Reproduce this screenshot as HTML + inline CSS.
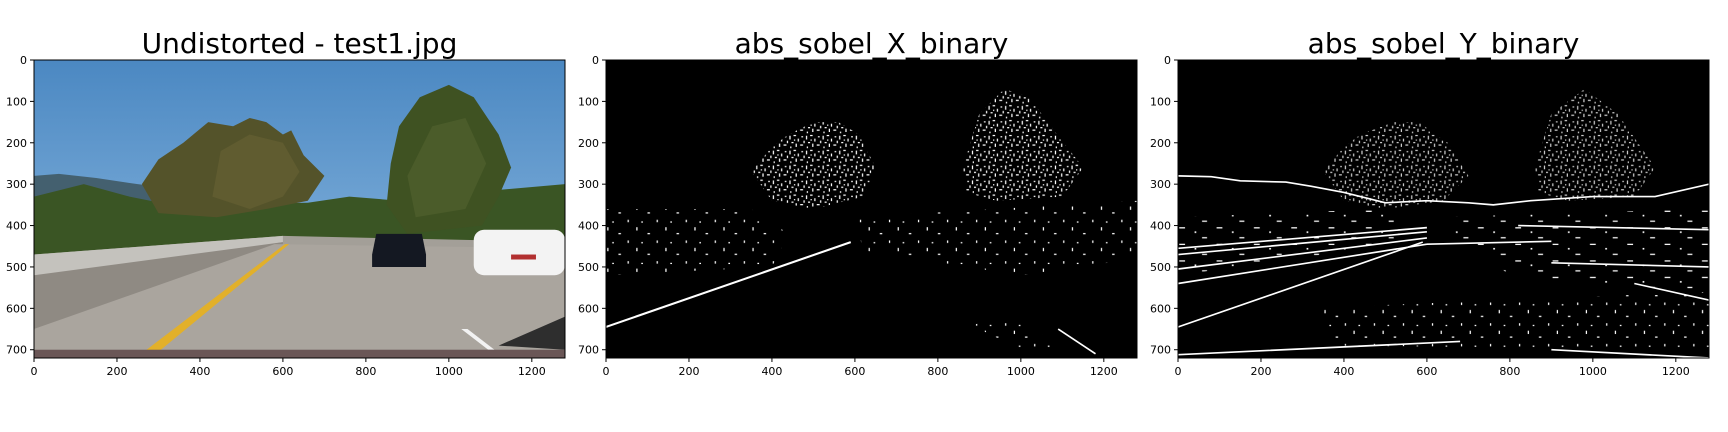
<!DOCTYPE html>
<html><head><meta charset="utf-8"><style>
html,body{margin:0;padding:0;background:#fff;}
#root{position:relative;width:1728px;height:432px;overflow:hidden;font-family:"DejaVu Sans","Liberation Sans",sans-serif;}
svg{position:absolute;left:0;top:0;}
</style></head><body>
<div id="root">
<svg id="fig" width="1728" height="432" viewBox="0 0 1728 432">
<defs>
<linearGradient id="sky" x1="0" y1="0" x2="0" y2="1">
<stop offset="0" stop-color="#4b88c2"/><stop offset="0.5" stop-color="#6fa3d3"/><stop offset="1" stop-color="#9cc4e6"/></linearGradient>
<pattern id="speck" width="40" height="36" patternUnits="userSpaceOnUse">
<rect x="2" y="3" width="3" height="9" fill="#fff"/><rect x="12" y="1" width="6" height="3" fill="#fff"/>
<rect x="22" y="10" width="3" height="7" fill="#fff"/><rect x="31" y="4" width="4" height="3" fill="#fff"/>
<rect x="7" y="18" width="5" height="3" fill="#fff"/><rect x="17" y="22" width="3" height="8" fill="#fff"/>
<rect x="28" y="24" width="7" height="3" fill="#fff"/><rect x="36" y="15" width="3" height="6" fill="#fff"/>
<rect x="4" y="29" width="3" height="4" fill="#fff"/><rect x="13" y="12" width="3" height="3" fill="#fff"/>
</pattern>
<pattern id="sparse" width="70" height="50" patternUnits="userSpaceOnUse">
<rect x="3" y="4" width="3" height="8" fill="#fff"/><rect x="30" y="18" width="6" height="3" fill="#fff"/>
<rect x="52" y="36" width="3" height="6" fill="#fff"/><rect x="15" y="40" width="4" height="3" fill="#fff"/>
</pattern>
<pattern id="speck2" width="90" height="40" patternUnits="userSpaceOnUse">
<rect x="3" y="4" width="14" height="3" fill="#fff"/><rect x="40" y="14" width="4" height="4" fill="#fff"/>
<rect x="58" y="28" width="12" height="3" fill="#fff"/>
</pattern>
</defs>
<g id="panels"></g>
</svg>
</div>
<script>
const titles = ["Undistorted - test1.jpg", "abs_sobel_X_binary", "abs_sobel_Y_binary"];
const xTicks = [0, 200, 400, 600, 800, 1000, 1200];
const yTicks = [0, 100, 200, 300, 400, 500, 600, 700];
const imgW = [1280];
const imgH = [720];
const panelLeft = [34, 606, 1178];
const AXW = 531, AXH = 298, AXT = 60;
const NS = "http://www.w3.org/2000/svg";
const root = document.getElementById('panels');
function mk(tag, attrs, parent){const e=document.createElementNS(NS,tag);for(const k in attrs)e.setAttribute(k,attrs[k]);parent.appendChild(e);return e;}
const sx = v => v / imgW[0] * AXW;
const sy = v => v / imgH[0] * AXH;

const photoSVG = `
<rect x="0" y="0" width="1280" height="720" fill="url(#sky)"/>
<path d="M0,280 L60,275 L150,285 L250,300 L330,310 L360,330 L360,420 L0,420Z" fill="#44606f"/>
<path d="M0,330 L120,300 L230,330 L330,350 L660,345 L760,330 L880,340 L1050,320 L1280,300 L1280,470 L0,470Z" fill="#3a5524"/>
<path d="M260,300 L300,240 L360,200 L420,150 L480,160 L520,140 L560,150 L600,180 L620,170 L650,230 L700,280 L660,340 L560,360 L440,380 L300,370 Z" fill="#54532a"/>
<path d="M450,220 L520,180 L600,200 L640,270 L600,330 L520,360 L430,330 Z" fill="#605c30"/>
<path d="M860,250 L880,160 L930,90 L1000,60 L1060,90 L1120,180 L1150,260 L1120,330 L1080,400 L900,420 L850,350 Z" fill="#3f5222"/>
<path d="M900,280 L960,160 L1040,140 L1090,250 L1040,360 L920,380Z" fill="#4b5c2a"/>
<path d="M0,470 L600,425 L1280,440 L1280,720 L0,720Z" fill="#a39f98"/>
<path d="M0,470 L600,425 L600,440 L0,540Z" fill="#c4c2bd"/>
<path d="M0,520 L600,440 L600,445 L0,650Z" fill="#8f8a83"/>
<path d="M580,445 L1280,455 L1280,720 L0,720 L0,650Z" fill="#aaa59e"/>
<path d="M265,705 L300,705 L615,445 L605,445Z" fill="#e2b02a"/>
<path d="M1030,650 L1045,650 L1110,700 L1095,700Z" fill="#f2f2f2"/>
<path d="M1120,690 L1280,620 L1280,700Z" fill="#2e2e2e"/>
<path d="M825,420 L935,420 L945,470 L945,500 L815,500 L815,470Z" fill="#141822"/>
<rect x="1060" y="410" width="220" height="110" rx="25" fill="#f3f3f3"/>
<rect x="1150" y="470" width="60" height="12" fill="#b23030"/>
<rect x="0" y="700" width="1280" height="20" fill="#6a5656"/>
`;

const sobelX = `
<rect x="0" y="0" width="1280" height="720" fill="#000"/>
<path d="M350,270 L400,210 L440,180 L500,150 L560,150 L610,180 L650,260 L620,330 L500,360 L400,340Z" fill="url(#speck)"/>
<path d="M860,260 L900,130 L960,70 L1020,90 L1080,170 L1150,260 L1100,330 L940,340 L870,320Z" fill="url(#speck)"/>
<path d="M0,360 L350,360 L440,420 L400,500 L0,520Z" fill="url(#sparse)"/>
<path d="M600,380 L1280,340 L1280,480 L1000,520 L620,460Z" fill="url(#sparse)"/>
<path d="M0,645 L590,440" stroke="#fff" stroke-width="5"/>
<path d="M880,640 L1000,700 L1100,700 L1000,620Z" fill="url(#sparse)"/>
<path d="M1090,650 L1180,710" stroke="#fff" stroke-width="4"/>
`;

const sobelY = `
<rect x="0" y="0" width="1280" height="720" fill="#000"/>
<path d="M350,270 L400,210 L440,180 L520,150 L580,150 L650,200 L700,280 L640,340 L500,360 L400,340Z" fill="url(#speck)" opacity="0.8"/>
<path d="M860,260 L900,130 L980,70 L1060,130 L1150,260 L1100,330 L940,340 L870,320Z" fill="url(#speck)" opacity="0.8"/>
<path d="M0,280 L80,282 L150,292 L260,295 L320,305 L400,320 L500,345 L600,340 L700,345 L760,350 L850,340 L1000,330 L1150,330 L1280,300" stroke="#fff" stroke-width="4" fill="none"/>
<path d="M0,540 L600,445 M0,505 L600,430 M0,470 L600,415 M0,455 L600,405 M600,445 L900,438 M820,400 L1280,410 M900,490 L1280,500 M1100,540 L1280,580 M0,712 L680,680 M900,700 L1280,720" stroke="#fff" stroke-width="4" fill="none"/>
<path d="M0,645 L590,440" stroke="#fff" stroke-width="4"/>
<path d="M0,380 L500,360 L560,440 L0,520Z" fill="url(#speck2)"/>
<path d="M620,380 L1280,360 L1280,560 L800,520Z" fill="url(#speck2)"/>
<path d="M300,600 L1280,560 L1280,700 L400,690Z" fill="url(#sparse)"/>
`;
const contents = [photoSVG, sobelX, sobelY];
const names = ['undistorted-image', 'sobel-x-image', 'sobel-y-image'];

for (let p = 0; p < titles.length; p++) {
  const L = panelLeft[p];
  const g = mk('g', {}, root);
  
  
  const inner = mk('svg', {x: L, y: AXT, width: AXW, height: AXH, viewBox: '0 0 1280 720', preserveAspectRatio: 'none'}, g);
  
  
  inner.innerHTML = contents[p];
  const frame = mk('rect', {x: L, y: AXT, width: AXW, height: AXH, fill: 'none', stroke: '#000', 'stroke-width': 1}, g);
  
  
  const t = mk('text', {x: L + AXW/2, y: 53, 'text-anchor': 'middle', 'font-size': 28, fill: '#000'}, g);
  
  
  t.textContent = titles[p];
  xTicks.forEach(v => {
    const x = L + sx(v);
    const tk = mk('line', {x1: x, y1: AXT+AXH, x2: x, y2: AXT+AXH+4, stroke: '#000'}, g);
    
    
    const lb = mk('text', {x: x, y: AXT+AXH+17, 'text-anchor': 'middle', 'font-size': 11, fill: '#000'}, g);
    
    
    lb.textContent = v;
  });
  yTicks.forEach(v => {
    const y = AXT + sy(v);
    const tk = mk('line', {x1: L-4, y1: y, x2: L, y2: y, stroke: '#000'}, g);
    
    
    const lb = mk('text', {x: L-7, y: y+4, 'text-anchor': 'end', 'font-size': 11, fill: '#000'}, g);
    
    
    lb.textContent = v;
  });
}
</script>
</body></html>
